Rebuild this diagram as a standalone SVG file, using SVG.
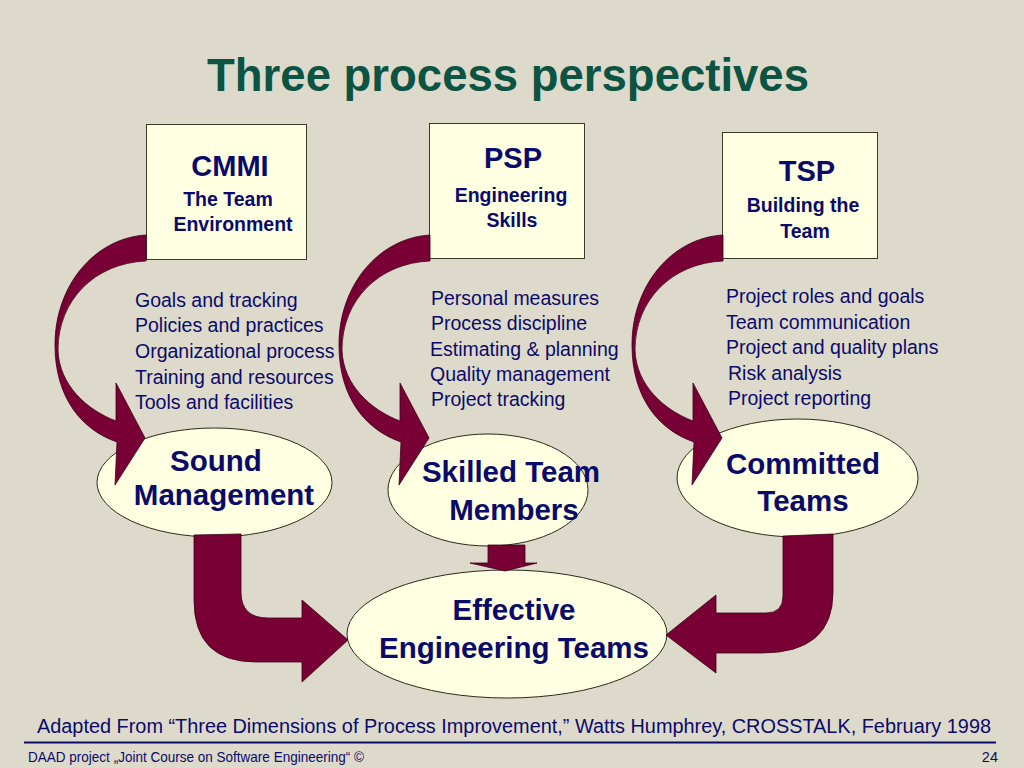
<svg xmlns="http://www.w3.org/2000/svg" width="1024" height="768" viewBox="0 0 1024 768">
<defs>
<style>
.bg{fill:#DDDACB}
.title{font-family:"Liberation Sans",Arial,sans-serif;font-weight:bold;font-size:45.5px;fill:#0B5343}
.box{fill:#FFFFE1;stroke:#3a3a2a;stroke-width:1}
.ell{fill:#FFFFE1;stroke:#2a2a1a;stroke-width:1}
.h1{font-family:"Liberation Sans",Arial,sans-serif;font-weight:bold;font-size:29px;fill:#0A0A6A;text-anchor:middle}
.h2{font-family:"Liberation Sans",Arial,sans-serif;font-weight:bold;font-size:19.5px;fill:#0A0A6A;text-anchor:middle}
.lst{font-family:"Liberation Sans",Arial,sans-serif;font-size:19.5px;fill:#0A0A6A}
.et{font-family:"Liberation Sans",Arial,sans-serif;font-weight:bold;font-size:29.5px;fill:#0A0A6A;text-anchor:middle}
.arr{fill:#790034;stroke:#3a0018;stroke-width:0.8}
.foot{font-family:"Liberation Sans",Arial,sans-serif;fill:#0A0A6A}
</style>
<path id="curved" d="M146,235 C95,238 55,285 55,345 C55,398 82,430 117,442 L115,485 L145,438 L116,383 L116,421 C87,410 59,385 58,350 C58,300 95,263 146,261 Z"/>
</defs>
<rect class="bg" x="0" y="0" width="1024" height="768"/>
<text class="title" x="508" y="91" text-anchor="middle">Three process perspectives</text>

<g id="cmmi">
<rect class="box" x="146.5" y="124.5" width="160" height="135"/>
<text class="h1" x="230" y="176">CMMI</text>
<text class="h2" x="228" y="206">The Team</text>
<text class="h2" x="233" y="231">Environment</text>
</g>
<g id="psp">
<rect class="box" x="429.5" y="123.5" width="155" height="135"/>
<text class="h1" x="513" y="168">PSP</text>
<text class="h2" x="511" y="202">Engineering</text>
<text class="h2" x="512" y="227">Skills</text>
</g>
<g id="tsp">
<rect class="box" x="722.5" y="132.5" width="155" height="126"/>
<text class="h1" x="807" y="181">TSP</text>
<text class="h2" x="803" y="212">Building the</text>
<text class="h2" x="805" y="238">Team</text>
</g>

<g id="cmmi-list">
<text class="lst" x="135" y="307">Goals and tracking</text>
<text class="lst" x="135" y="332">Policies and practices</text>
<text class="lst" x="135" y="358">Organizational process</text>
<text class="lst" x="135" y="384">Training and resources</text>
<text class="lst" x="135" y="409">Tools and facilities</text>
</g>
<g id="psp-list">
<text class="lst" x="431" y="305">Personal measures</text>
<text class="lst" x="431" y="330">Process discipline</text>
<text class="lst" x="430" y="356">Estimating &amp; planning</text>
<text class="lst" x="430" y="381">Quality management</text>
<text class="lst" x="431" y="406">Project tracking</text>
</g>
<g id="tsp-list">
<text class="lst" x="726" y="303">Project roles and goals</text>
<text class="lst" x="726" y="329">Team communication</text>
<text class="lst" x="726" y="354">Project and quality plans</text>
<text class="lst" x="728" y="380">Risk analysis</text>
<text class="lst" x="728" y="405">Project reporting</text>
</g>

<g id="sound">
<ellipse class="ell" cx="214.5" cy="482.5" rx="117.5" ry="54.5"/>
<text class="et" x="216" y="471">Sound</text>
<text class="et" x="224" y="505">Management</text>
</g>
<g id="skilled">
<ellipse class="ell" cx="488" cy="490" rx="100" ry="56"/>
<text class="et" x="511" y="482">Skilled Team</text>
<text class="et" x="514" y="520">Members</text>
</g>
<g id="committed">
<ellipse class="ell" cx="797.5" cy="478" rx="120.5" ry="59"/>
<text class="et" x="803" y="474">Committed</text>
<text class="et" x="803" y="511">Teams</text>
</g>
<g id="effective">
<ellipse class="ell" cx="507" cy="634" rx="160" ry="64"/>
<text class="et" x="514" y="620">Effective</text>
<text class="et" x="514" y="658">Engineering Teams</text>
</g>

<g id="connectors">
<use href="#curved" class="arr"/>
<use href="#curved" class="arr" transform="translate(284,0)"/>
<use href="#curved" class="arr" transform="translate(577,0)"/>
<path class="arr" d="M194,535 L194,600 Q194,662 256,662 L302,662 L302,682 L348,640 L302,600 L302,618 L268,618 Q241,618 241,592 L241,534 Z"/>
<path class="arr" d="M488,545 L488,563 L470,563 L505,571 L537,563 L525,563 L525,545 Z"/>
<path class="arr" d="M783,536 L783,596 Q783,613 766,613 L716,613 L716,595 L666,635 L716,673 L716,653 L762,653 Q833,653 833,592 L833,534 Z"/>
</g>

<g id="footer">
<text class="foot" x="37" y="733" font-size="20" textLength="954" lengthAdjust="spacingAndGlyphs">Adapted From “Three Dimensions of Process Improvement,” Watts Humphrey, CROSSTALK, February 1998</text>
<line x1="24" y1="742.5" x2="996" y2="742.5" stroke="#0A0A6A" stroke-width="2"/>
<text class="foot" x="28" y="762" font-size="14.5" textLength="336" lengthAdjust="spacingAndGlyphs">DAAD project „Joint Course on Software Engineering“ ©</text>
<text class="foot" x="998" y="762" font-size="14.5" text-anchor="end">24</text>
</g>
</svg>
